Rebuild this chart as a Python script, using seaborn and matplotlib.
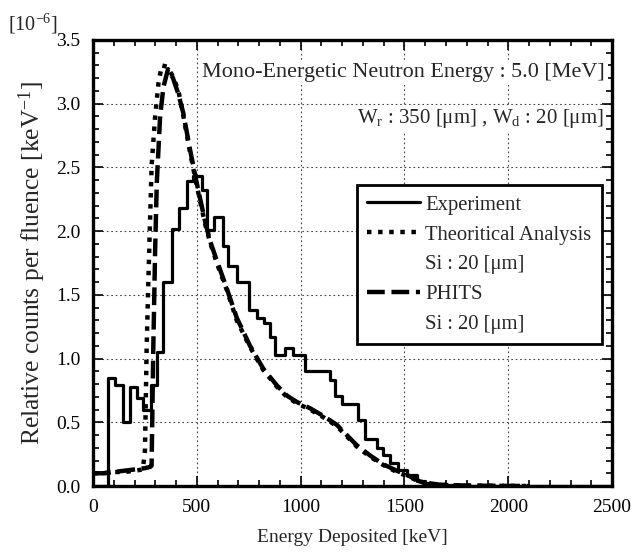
import numpy as np
import matplotlib
matplotlib.use('Agg')
import matplotlib.pyplot as plt
import seaborn as sns
from matplotlib.lines import Line2D
from matplotlib.ticker import MultipleLocator, FormatStrFormatter

# -------------------------------
# Data
# -------------------------------
# Experiment histogram: left bin edges and bin values (x 1e-6 /keV)
exp_edges = [0, 72, 106, 145, 178, 210, 241, 279, 307, 339,
             379, 416, 451, 483, 524, 551, 583, 628, 652, 692,
             751, 788, 823, 850, 877, 925, 965, 1021, 1139, 1166,
             1198, 1278, 1310, 1367, 1398, 1431, 1471, 1511, 1559, 1600,
             1650, 1800, 2500]
exp_vals = [0, 0.85, 0.79, 0.50, 0.78, 0.69, 0.60, 0.79, 1.05, 1.60,
            2.02, 2.18, 2.39, 2.43, 2.32, 2.01, 2.11, 1.88, 1.73, 1.60,
            1.38, 1.32, 1.28, 1.17, 1.03, 1.08, 1.03, 0.90, 0.83, 0.71,
            0.64, 0.52, 0.37, 0.30, 0.24, 0.18, 0.125, 0.086, 0.04, 0.02,
            0.005, 0, 0]

# Theoretical analysis
theory_e = [0, 50, 100, 150, 200, 240, 250, 258, 266, 275,
            282, 299, 315, 331, 355, 379, 410, 434, 467, 499,
            539, 564, 596, 644, 692, 756, 820, 885, 933, 981,
            1045, 1109, 1174, 1222, 1270, 1334, 1398, 1463, 1527, 1575,
            1655, 1750, 1900, 2100]
theory_v = [0.10, 0.10, 0.11, 0.11, 0.12, 0.13, 0.28, 1.07, 1.59, 2.11,
            2.51, 2.90, 3.16, 3.30, 3.29, 3.23, 3.11, 2.91, 2.62, 2.36,
            2.06, 1.91, 1.75, 1.54, 1.30, 1.09, 0.91, 0.78, 0.70, 0.65,
            0.60, 0.54, 0.47, 0.39, 0.31, 0.23, 0.165, 0.11, 0.07, 0.03,
            0.01, 0.005, 0.002, 0.0]

# PHITS
phits_e = [0, 50, 100, 150, 200, 250, 275, 282, 290, 299,
           307, 323, 339, 361, 385, 410, 434, 467, 499, 539,
           564, 596, 644, 692, 756, 820, 885, 933, 981, 1045,
           1109, 1174, 1222, 1270, 1334, 1398, 1463, 1527, 1575, 1655,
           1750, 1900, 2100]
phits_v = [0.10, 0.10, 0.11, 0.12, 0.13, 0.14, 0.15, 0.16, 1.07, 1.85,
           2.38, 2.90, 3.13, 3.27, 3.20, 3.08, 2.93, 2.64, 2.38, 2.08,
           1.92, 1.77, 1.55, 1.32, 1.10, 0.92, 0.79, 0.71, 0.66, 0.61,
           0.55, 0.48, 0.40, 0.32, 0.24, 0.17, 0.12, 0.075, 0.035, 0.012,
           0.005, 0.002, 0.0]

# -------------------------------
# Style
# -------------------------------
sns.set_theme(style='ticks')
plt.rcParams['font.family'] = ['Liberation Serif', 'DejaVu Serif']
plt.rcParams['mathtext.fontset'] = 'custom'
plt.rcParams['mathtext.rm'] = 'Liberation Serif'
plt.rcParams['mathtext.it'] = 'Liberation Serif:italic'

fig = plt.figure(figsize=(6.33, 5.54), dpi=100)
ax = fig.add_axes([0.147, 0.1227, 0.82, 0.8053])

# -------------------------------
# Curves
# -------------------------------
sns.lineplot(x=exp_edges, y=exp_vals, drawstyle='steps-post', color='black',
             linewidth=2.3, label='Experiment', ax=ax, zorder=3)
sns.lineplot(x=theory_e, y=theory_v, color='black', linewidth=3.2,
             linestyle=(0, (1.0, 1.5)), label='Theoritical Analysis', ax=ax, zorder=3)
sns.lineplot(x=phits_e, y=phits_v, color='black', linewidth=3.2,
             linestyle=(0, (4.0, 1.5)), label='PHITS', ax=ax, zorder=3)

# -------------------------------
# Axes
# -------------------------------
ax.set_xlim(0, 2500)
ax.set_ylim(0, 3.5)
ax.xaxis.set_major_locator(MultipleLocator(500))
ax.xaxis.set_minor_locator(MultipleLocator(100))
ax.yaxis.set_major_locator(MultipleLocator(0.5))
ax.yaxis.set_minor_locator(MultipleLocator(0.1))
ax.yaxis.set_major_formatter(FormatStrFormatter('%.1f'))
ax.tick_params(which='both', direction='in', top=True, right=True,
               labelsize=14, colors='black', width=1.2)
ax.tick_params(which='major', length=7, pad=9)
ax.tick_params(which='minor', length=4)
for sp in ax.spines.values():
    sp.set_linewidth(2.4)
    sp.set_color('black')

ax.grid(True, which='major', color='#444444', linestyle=(0, (1.5, 2.5)), linewidth=0.8)

ax.set_xlabel('Energy Deposited [keV]', fontsize=14, labelpad=10)
ax.set_ylabel('Relative counts per fluence [keV$^{-1}$]', fontsize=18.4, labelpad=6)
fig.text(0.012, 0.957, '[10$^{-6}$]', fontsize=14.5, ha='left', va='center')

# annotations
ax.text(0.986, 0.926, 'Mono-Energetic Neutron Energy : 5.0 [MeV]', transform=ax.transAxes,
        ha='right', va='center', fontsize=15.9,
        bbox=dict(facecolor='white', edgecolor='none', pad=2), zorder=4)
ax.text(0.983, 0.823, 'W$_\\mathrm{r}$ : 350 [μm] , W$_\\mathrm{d}$ : 20 [μm]',
        transform=ax.transAxes, ha='right', va='center', fontsize=15,
        bbox=dict(facecolor='white', edgecolor='none', pad=2), zorder=4)

# legend
h, l = ax.get_legend_handles_labels()
blank = Line2D([], [], color='none')
handles = [h[0], h[1], blank, h[2], blank]
labels = [l[0], l[1], 'Si : 20 [μm]', l[2], 'Si : 20 [μm]']
leg = ax.legend(handles, labels, loc='upper right', bbox_to_anchor=(0.980, 0.675),
                fontsize=14.9, frameon=True, fancybox=False, framealpha=1,
                edgecolor='black', handlelength=2.55, handletextpad=0.25,
                labelspacing=0.5, borderpad=0.5, borderaxespad=0)
leg.get_frame().set_linewidth(2)
leg.set_zorder(5)

fig.savefig('out.png', dpi=100)
